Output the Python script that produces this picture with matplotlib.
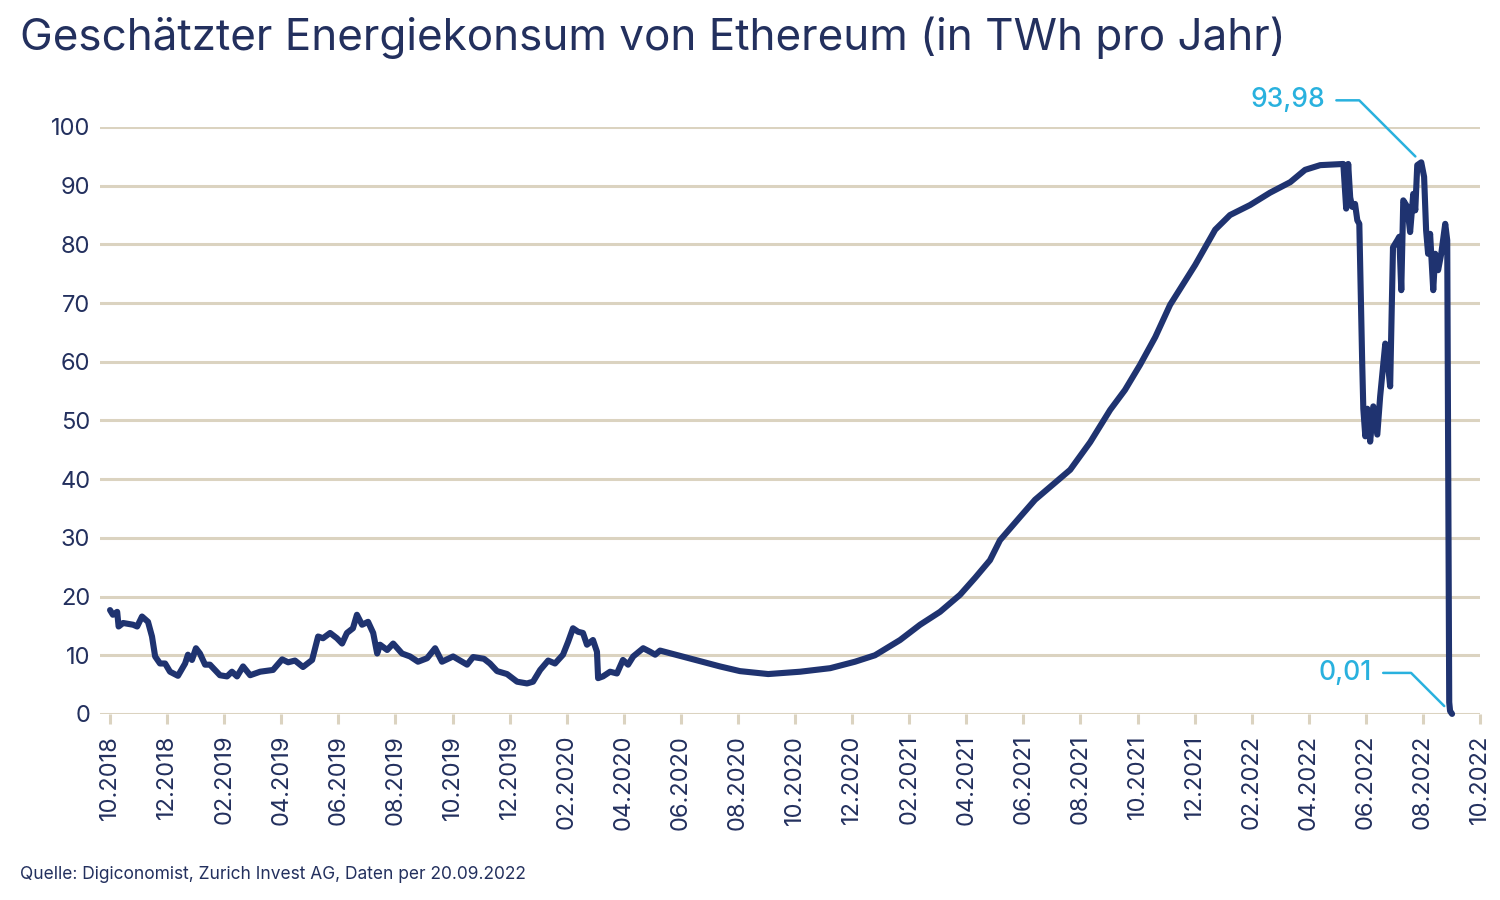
import numpy as np
import matplotlib
matplotlib.use("Agg")
import matplotlib.pyplot as plt

plt.rcParams['font.family'] = ['Inter', 'DejaVu Sans']

# months since 10.2018, estimated energy use in TWh per year
months = [0.00, 0.10, 0.25, 0.30, 0.46, 0.81, 0.95, 1.12, 1.33, 1.47, 1.58, 1.75, 1.93,
          2.10, 2.38, 2.63, 2.73, 2.87, 3.01, 3.15, 3.33, 3.50, 3.85, 4.10, 4.27, 4.45,
          4.66, 4.91, 5.26, 5.71, 6.03, 6.24, 6.48, 6.76, 7.08, 7.29, 7.46, 7.71, 7.95,
          8.13, 8.30, 8.51, 8.65, 8.83, 9.04, 9.22, 9.36, 9.46, 9.71, 9.92, 10.23, 10.51,
          10.79, 11.11, 11.39, 11.63, 12.02, 12.51, 12.72, 13.10, 13.31, 13.56, 13.91,
          14.26, 14.61, 14.82, 15.07, 15.35, 15.59, 15.87, 16.05, 16.22, 16.40, 16.57,
          16.71, 16.92, 17.06, 17.10, 17.27, 17.52, 17.76, 17.97, 18.15, 18.33, 18.68,
          18.92, 19.10, 19.27, 19.97, 21.37, 22.07, 23.06, 24.18, 25.23, 26.10, 26.80,
          27.68, 28.38, 29.08, 29.78, 30.31, 30.83, 31.18, 31.89, 32.41, 32.94, 33.64,
          34.34, 35.04, 35.56, 36.09, 36.62, 37.14, 38.02, 38.72, 39.24, 39.94, 40.64,
          41.35, 41.87, 42.40, 43.21, 43.31, 43.38, 43.45, 43.52, 43.62, 43.70, 43.77,
          43.87, 43.91, 43.98, 44.05, 44.15, 44.26, 44.40, 44.50, 44.68, 44.75, 44.85,
          44.95, 45.10, 45.17, 45.24, 45.31, 45.45, 45.55, 45.66, 45.73, 45.80, 45.94,
          46.04, 46.11, 46.18, 46.25, 46.36, 46.43, 46.53, 46.64, 46.78, 46.85, 46.92,
          46.95, 47.02]
twh = [17.7, 16.9, 17.4, 14.9, 15.5, 15.2, 14.9, 16.6, 15.7, 13.2, 9.8, 8.6, 8.6,
       7.2, 6.5, 8.6, 10.1, 9.2, 11.2, 10.3, 8.4, 8.4, 6.6, 6.4, 7.2, 6.4,
       8.1, 6.6, 7.2, 7.5, 9.3, 8.8, 9.1, 8.0, 9.2, 13.2, 12.9, 13.8, 12.9,
       12.0, 13.8, 14.6, 16.9, 15.2, 15.7, 13.8, 10.3, 11.8, 10.9, 12.0, 10.3, 9.8,
       8.9, 9.5, 11.2, 8.9, 9.8, 8.4, 9.7, 9.4, 8.6, 7.3, 6.8,
       5.5, 5.2, 5.5, 7.5, 9.1, 8.6, 10.1, 12.3, 14.6, 14.0, 13.8,
       11.8, 12.6, 10.6, 6.1, 6.4, 7.2, 6.9, 9.2, 8.4, 9.8, 11.2,
       10.6, 10.1, 10.8, 9.9, 8.1, 7.3, 6.8, 7.2, 7.8, 8.9, 10.0,
       12.6, 15.2, 17.4, 20.3, 23.2, 26.2, 29.6, 33.6, 36.5, 38.7, 41.6,
       46.3, 51.8, 55.2, 59.5, 64.2, 69.7, 76.5, 82.5, 85.0, 86.7, 88.8,
       90.6, 92.7, 93.5, 93.7, 86.1, 93.7, 88.0, 86.4, 86.9, 84.1, 83.5,
       60.0, 52.0, 47.3, 52.0, 46.4, 52.4, 47.6, 54.1, 63.1, 60.8, 55.8,
       79.5, 80.7, 81.3, 72.2, 87.5, 86.4, 82.1, 88.6, 85.8, 93.5, 93.98,
       91.5, 82.4, 78.4, 81.8, 72.2, 78.4, 75.6, 78.4, 83.5, 80.7, 2.0,
       0.5, 0.01]

tick_labels = ['10.2018', '12.2018', '02.2019', '04.2019', '06.2019', '08.2019',
               '10.2019', '12.2019', '02.2020', '04.2020', '06.2020', '08.2020',
               '10.2020', '12.2020', '02.2021', '04.2021', '06.2021', '08.2021',
               '10.2021', '12.2021', '02.2022', '04.2022', '06.2022', '08.2022',
               '10.2022']
yticks = [0, 10, 20, 30, 40, 50, 60, 70, 80, 90, 100]

navy = '#1f3370'
text_navy = '#23305e'
grid_col = '#dbd3c0'
cyan = '#29b1de'

fig = plt.figure(figsize=(15, 9), dpi=100)
ax = fig.add_axes([0.0667, 0.2067, 0.92, 0.6522])

ax.plot(months, twh, color=navy, lw=4.4, solid_joinstyle='round',
        solid_capstyle='round', clip_on=False, zorder=3)

ax.set_xlim(-0.35, 48)
ax.set_ylim(0, 100)
ax.set_yticks(yticks)
ax.set_xticks(np.arange(len(tick_labels)) * 2)
ax.set_xticklabels(tick_labels, rotation=90, fontsize=17, color=text_navy)
ax.set_yticklabels([str(v) for v in yticks], fontsize=17, color=text_navy)
ax.grid(axis='y', color=grid_col, lw=2.2, zorder=0)
ax.tick_params(axis='y', length=0, pad=7)
ax.tick_params(axis='x', length=7, width=2.2, color=grid_col, pad=8)
for s in ax.spines.values():
    s.set_visible(False)

# peak annotation
i_peak = int(np.argmax(twh))
ax.annotate('93,98', xy=(months[i_peak], twh[i_peak]), xytext=(-96, 62),
            textcoords='offset pixels', ha='right', va='center', fontsize=19,
            color=cyan, fontweight='medium', annotation_clip=False,
            arrowprops=dict(arrowstyle='-', color=cyan, lw=1.8,
                            connectionstyle='angle,angleA=0,angleB=-45,rad=0',
                            shrinkA=6, shrinkB=6))
ax.annotate('0,01', xy=(months[-1], twh[-1]), xytext=(-80, 41),
            textcoords='offset pixels', ha='right', va='center', fontsize=19,
            color=cyan, fontweight='medium', annotation_clip=False,
            arrowprops=dict(arrowstyle='-', color=cyan, lw=1.8,
                            connectionstyle='angle,angleA=0,angleB=-45,rad=0',
                            shrinkA=6, shrinkB=8))

fig.text(0.0133, 0.958, 'Geschätzter Energiekonsum von Ethereum (in TWh pro Jahr)',
         fontsize=31.7, color=text_navy, ha='left', va='center')
fig.text(0.0133, 0.028, 'Quelle: Digiconomist, Zurich Invest AG, Daten per 20.09.2022',
         fontsize=12.5, color=text_navy, ha='left', va='center')

fig.savefig('out.png', dpi=100)
